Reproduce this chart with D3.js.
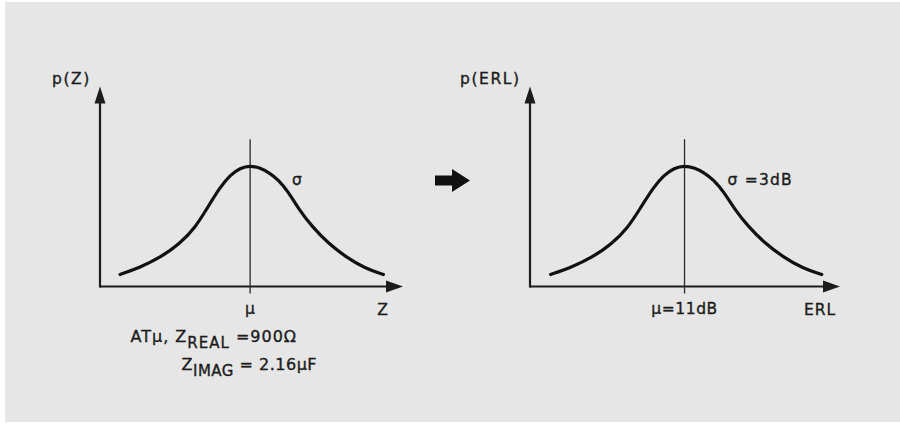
<!DOCTYPE html>
<html><head><meta charset="utf-8">
<script src="https://cdn.jsdelivr.net/npm/d3@7"></script>
<style>
body{margin:0;background:#fff}
svg{display:block}
text{font-family:"DejaVu Sans",sans-serif;fill:#1c1c1c;stroke:#1c1c1c;stroke-width:0.35px}
</style>
</head><body>
<svg id="c" width="900" height="426"></svg>
<script>
// Bell curve: offset from the mean (σ units) and relative density
const curveOffset  = [-2.86, -2.42, -1.98, -1.54, -1.21, -0.95, -0.66, -0.44, -0.22, 0, 0.22, 0.42, 0.62, 0.84, 1.06, 1.36, 1.72, 2.09, 2.53, 2.93];
const curveDensity = [0.10, 0.16, 0.24, 0.36, 0.49, 0.65, 0.83, 0.93, 0.99, 1.01, 0.99, 0.95, 0.89, 0.79, 0.65, 0.50, 0.36, 0.25, 0.15, 0.10];
const meanLineTop = 1.23;          // relative height where the μ marker line ends
const yLabels     = ["p(Z)", "p(ERL)"];
const xLabels     = ["Z", "ERL"];
const meanLabels  = ["μ", "μ=11dB"];
const sigmaLabels = ["σ", "σ =3dB"];
const noteLine1   = ["ATμ, Z", "REAL", " =900Ω"];
const noteLine2   = ["Z", "IMAG", " = 2.16μF"];

const svg = d3.select("#c");
svg.append("rect").attr("x",5).attr("y",2).attr("width",895).attr("height",420).attr("fill","#e6e6e6");

const ink = "#1c1c1c";
const frames = [
  {x0:100, x1:403, xd:[-3.3, 3.36]},
  {x0:530, x1:840, xd:[-3.3, 3.32]}
];
const y = d3.scaleLinear().domain([0, 1.67]).range([286.5, 86.5]);
const pts = curveOffset.map((o,i)=>[o, curveDensity[i]]);

frames.forEach((f, k) => {
  const x = d3.scaleLinear().domain(f.xd).range([f.x0, f.x1]);
  const g = svg.append("g");
  // axes
  g.append("line").attr("x1",x(f.xd[0])).attr("x2",x(f.xd[1])-8).attr("y1",y(0)).attr("y2",y(0))
    .attr("stroke",ink).attr("stroke-width",2.2);
  g.append("line").attr("x1",x(f.xd[0])).attr("x2",x(f.xd[0])).attr("y1",y(0)+1.1).attr("y2",y(1.67)+8)
    .attr("stroke",ink).attr("stroke-width",2.2);
  // arrowheads
  const tx = x(f.xd[1]), ty = y(0);
  g.append("path").attr("d",`M${tx},${ty} L${tx-17},${ty-6} L${tx-17},${ty+6} Z`).attr("fill",ink);
  const ax = x(f.xd[0]), ay = y(1.67);
  g.append("path").attr("d",`M${ax},${ay} L${ax-5.5},${ay+17} L${ax+5.5},${ay+17} Z`).attr("fill",ink);
  // mean line
  g.append("line").attr("x1",x(0)).attr("x2",x(0)).attr("y1",y(meanLineTop)).attr("y2",y(0)+7)
    .attr("stroke","#2a2a2a").attr("stroke-width",1.3);
  // curve
  const line = d3.line().x(d=>x(d[0])).y(d=>y(d[1])).curve(d3.curveBasis);
  g.append("path").attr("d",line(pts)).attr("fill","none").attr("stroke","#111")
    .attr("stroke-width",3.2).attr("stroke-linecap","round");
  // labels
  g.append("text").attr("x",x(f.xd[0])-48 + (k?-22:0)).attr("y",84).attr("font-size",15.5)
    .attr("letter-spacing",1.6).text(yLabels[k]);
  g.append("text").attr("x",x(0)).attr("y",314).attr("text-anchor","middle").attr("font-size",15.5)
    .attr("letter-spacing",0.6).text(meanLabels[k]);
  g.append("text").attr("x",x(f.xd[1])-20).attr("y",315).attr("text-anchor","middle").attr("font-size",15.5)
    .attr("letter-spacing",0.9).text(xLabels[k]);
  g.append("text").attr("x",x(0.92)).attr("y",185).attr("font-size",15.5)
    .attr("letter-spacing",1.2).text(sigmaLabels[k]);
});

// notes under left chart
function note(xs, yb, parts, ls){
  const t = svg.append("text").attr("x",xs).attr("y",yb).attr("font-size",16).attr("letter-spacing",ls);
  t.append("tspan").text(parts[0]);
  t.append("tspan").attr("dy",6).attr("font-size",15).text(parts[1]);
  t.append("tspan").attr("dy",-6).text(parts[2]);
}
note(130.5, 342, noteLine1, 1.0);
note(181.5, 370, noteLine2, 0.5);

// transformation arrow
svg.append("path").attr("d","M435,175.5 L452,175.5 L452,169 L470,180.5 L452,192 L452,185.5 L435,185.5 Z").attr("fill","#111");
</script>
</body></html>
